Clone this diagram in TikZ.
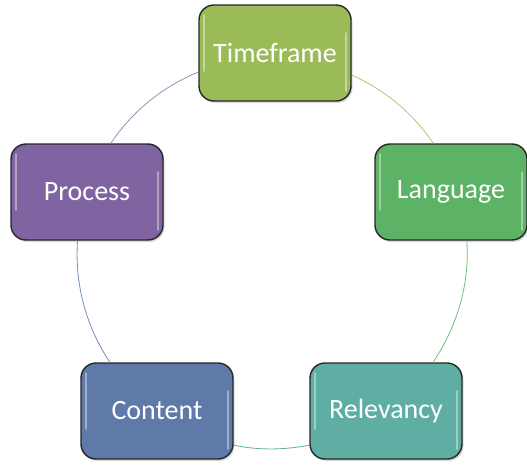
\documentclass[tikz,border=0pt]{standalone}
\usepackage{fontspec}
\setmainfont{Carlito}
\usetikzlibrary{shadows}
\definecolor{tfgreen}{RGB}{155,187,89}
\definecolor{langgreen}{RGB}{92,179,102}
\definecolor{relteal}{RGB}{94,174,163}
\definecolor{contblue}{RGB}{95,121,168}
\definecolor{procpurple}{RGB}{128,100,162}
\tikzstyle{cycle-box} = [rectangle, rounded corners=15pt, draw=black!85, line width=1.4pt, text=white, minimum width=152pt, minimum height=96pt, font=\fontsize{28}{33}\selectfont, drop shadow={shadow xshift=1.5pt, shadow yshift=-2pt, opacity=0.3}, path picture={
    \draw[white, opacity=0.4, line width=1.8pt, line cap=round] ([xshift=5pt, yshift=-10pt]path picture bounding box.north west) -- ([xshift=5pt, yshift=30pt]path picture bounding box.south west);
    \draw[white, opacity=0.4, line width=1.8pt, line cap=round] ([xshift=-5pt, yshift=-28pt]path picture bounding box.north east) -- ([xshift=-5pt, yshift=10pt]path picture bounding box.south east);}]
\tikzstyle{cycle-arc} = [line width=0.8pt]

\begin{document}
\begin{tikzpicture}[x=1pt, y=-1pt]
        \useasboundingbox (0,0) rectangle (527,464);

        \node [cycle-box, fill=tfgreen] (timeframe) at (275,53) {Timeframe};
        \node [cycle-box, fill=langgreen] (language) at (451,192) {Language};
        \node [cycle-box, fill=relteal] (relevancy) at (386,411) {Relevancy};
        \node [cycle-box, fill=contblue] (content) at (157,411) {Content};
        \node [cycle-box, fill=procpurple] (process) at (87,192) {Process};

        \draw [cycle-arc, draw=tfgreen!80] (timeframe.344) to[out=336, in=124, looseness=0.87] (language.110);
        \draw [cycle-arc, draw=langgreen!85] (language.288) to[out=274, in=56, looseness=0.875] (relevancy.46);
        \draw [cycle-arc, draw=relteal] (relevancy.204) to[out=191, in=348, looseness=0.86] (content.336);
        \draw [cycle-arc, draw=contblue!85] (content.134) to[out=124, in=266, looseness=0.875] (process.259);
        \draw [cycle-arc, draw=procpurple!75] (process.64) to[out=56, in=202, looseness=0.87] (timeframe.194);
\end{tikzpicture}
\end{document}
